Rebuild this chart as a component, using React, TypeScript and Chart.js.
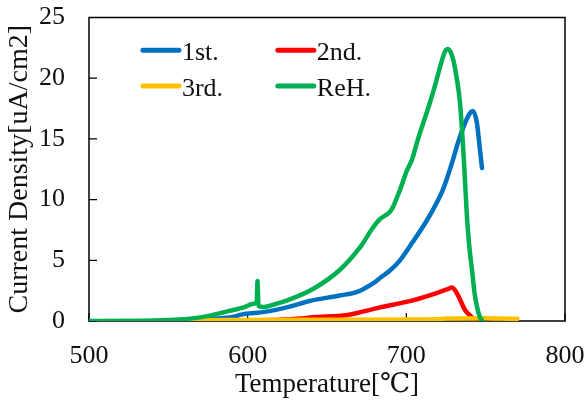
import React, { useEffect, useRef } from 'react';
import { Chart, registerables } from 'chart.js';

Chart.register(...registerables);

// ---- data (temperature in °C, current density in uA/cm2) ----
const firstTemp = [540, 560, 580, 593, 595, 611, 627, 639, 658, 669, 679, 684, 690, 696, 704, 713, 719, 723, 726, 729.4, 732.6, 737, 740, 742, 744.5, 746.4, 747.7];
const firstCurrent = [0, 0.05, 0.2, 0.4, 0.5, 0.75, 1.2, 1.65, 2.1, 2.4, 3.1, 3.6, 4.2, 5.0, 6.5, 8.3, 9.7, 10.8, 11.9, 13.3, 14.7, 16.3, 17.1, 17.3, 16.3, 14.1, 12.6];

const secondTemp = [580, 600, 620, 633, 641, 663, 683, 704, 719, 725.6, 728.8, 732.6, 737, 741.4, 742.6];
const secondCurrent = [0, 0.05, 0.1, 0.2, 0.3, 0.5, 1.1, 1.7, 2.3, 2.6, 2.75, 2.1, 0.9, 0.3, 0.1];

const thirdTemp = [545, 560, 600, 650, 700, 720, 725, 750, 760, 770];
const thirdCurrent = [0, 0.05, 0.08, 0.1, 0.12, 0.15, 0.2, 0.22, 0.2, 0.18];

const rehTemp = [500, 530, 550, 570, 589, 598, 603, 605.7, 606.2, 606.8, 610, 615, 627, 642, 658, 671, 679, 683.4, 689.7, 691.6, 696, 700.4, 703.6, 706.7, 714.9, 718.1, 721.2, 724.4, 726.3, 729.4, 731.9, 733.8, 735.7, 736.8, 738.2, 739.5, 741.4, 743, 744.5, 746.4, 747.7];
const rehCurrent = [0, 0.02, 0.08, 0.3, 0.85, 1.15, 1.4, 1.55, 3.3, 1.25, 1.15, 1.3, 1.8, 2.7, 4.2, 6.1, 7.7, 8.4, 9.0, 9.4, 10.8, 12.4, 13.3, 14.7, 18, 19.4, 20.9, 22.2, 22.4, 21.6, 19.9, 18, 14.5, 12, 8.6, 6.4, 4.2, 2.3, 1.2, 0.3, 0.05];

const seriesLabels = ['1st.', '2nd.', '3rd.', 'ReH.'];
const seriesColors = ['#0070C0', '#FF0000', '#FFC000', '#00B050'];

const xTickValues = [500, 600, 700, 800];
const yTickValues = [0, 5, 10, 15, 20, 25];

const FONT = "'Liberation Serif', 'DejaVu Serif', serif";

function toPoints(xs: number[], ys: number[]) {
  return xs.map((x, i) => ({ x, y: ys[i] }));
}

const framePlugin = {
  id: 'frameAndTicks',
  beforeDatasetsDraw(chart: any) {
    const { ctx, chartArea } = chart;
    const xs = chart.scales.x;
    const ys = chart.scales.y;
    ctx.save();
    ctx.strokeStyle = '#000';
    ctx.lineWidth = 1.5;
    ctx.strokeRect(chartArea.left, chartArea.top, chartArea.right - chartArea.left, chartArea.bottom - chartArea.top);
    ctx.lineWidth = 1.2;
    ctx.beginPath();
    yTickValues.forEach((v) => {
      const py = ys.getPixelForValue(v);
      ctx.moveTo(chartArea.left, py);
      ctx.lineTo(chartArea.left + 8, py);
    });
    xTickValues.forEach((v) => {
      const px = xs.getPixelForValue(v);
      ctx.moveTo(px, chartArea.bottom);
      ctx.lineTo(px, chartArea.bottom - 8);
    });
    ctx.stroke();
    ctx.restore();
  },
  afterDraw(chart: any) {
    const { ctx } = chart;
    const xs = chart.scales.x;
    const ys = chart.scales.y;
    // legend in two columns inside the plot area
    const colX = [xs.getPixelForValue(534), xs.getPixelForValue(619)];
    const rowY = [ys.getPixelForValue(22.3), ys.getPixelForValue(19.35)];
    ctx.save();
    ctx.font = `26px ${FONT}`;
    ctx.textBaseline = 'middle';
    ctx.fillStyle = '#111';
    seriesLabels.forEach((label, i) => {
      const c = i % 2;
      const r = Math.floor(i / 2);
      const x0 = colX[c];
      const y0 = rowY[r];
      ctx.strokeStyle = seriesColors[i];
      ctx.lineWidth = 5;
      ctx.lineCap = 'round';
      ctx.beginPath();
      ctx.moveTo(x0, y0);
      ctx.lineTo(x0 + 36, y0);
      ctx.stroke();
      ctx.fillText(label, x0 + 39, y0 + 3);
    });
    ctx.restore();
  },
};

export default function App() {
  const ref = useRef<HTMLCanvasElement | null>(null);
  useEffect(() => {
    document.body.style.margin = '0';
    const canvas = ref.current;
    if (!canvas) return;
    const mk = (i: number, xs: number[], ys: number[], order: number) => ({
      label: seriesLabels[i],
      data: toPoints(xs, ys),
      borderColor: seriesColors[i],
      backgroundColor: seriesColors[i],
      borderWidth: 4.5,
      pointRadius: 0,
      cubicInterpolationMode: 'monotone',
      borderCapStyle: 'round',
      borderJoinStyle: 'round',
      fill: false,
      order,
    });
    const chart = new Chart(canvas, {
      type: 'line',
      data: {
        datasets: [
          mk(0, firstTemp, firstCurrent, 3),
          mk(1, secondTemp, secondCurrent, 2),
          mk(2, thirdTemp, thirdCurrent, 1),
          mk(3, rehTemp, rehCurrent, 0),
        ] as any,
      },
      options: {
        responsive: false,
        animation: false,
        layout: { padding: { top: 17.5, right: 22, left: 0, bottom: 0 } },
        plugins: { legend: { display: false }, tooltip: { enabled: false } },
        scales: {
          x: {
            type: 'linear',
            min: 500,
            max: 800,
            afterBuildTicks: (s: any) => { s.ticks = xTickValues.map((v) => ({ value: v })); },
            afterFit: (s: any) => { s.height = 82; s.paddingLeft = 0; s.paddingRight = 0; },
            grid: { display: false, drawTicks: false },
            border: { display: false },
            ticks: { color: '#111', font: { family: FONT, size: 26 }, padding: 20, maxRotation: 0 },
            title: { display: true, text: 'Temperature[℃]', color: '#111', font: { family: FONT, size: 27 }, padding: { top: 0, bottom: 2 } },
          },
          y: {
            type: 'linear',
            min: 0,
            max: 25,
            afterBuildTicks: (s: any) => { s.ticks = yTickValues.map((v) => ({ value: v })); },
            afterFit: (s: any) => { s.width = 89; s.paddingTop = 0; s.paddingBottom = 0; },
            grid: { display: false, drawTicks: false },
            border: { display: false },
            ticks: { color: '#111', font: { family: FONT, size: 26 }, padding: 24 },
            title: { display: true, text: 'Current Density[uA/cm2]', color: '#111', font: { family: FONT, size: 28 }, padding: { top: 3, bottom: 0 } },
          },
        },
      },
      plugins: [framePlugin],
    });
    return () => chart.destroy();
  }, []);
  return (
    <div style={{ width: 587, height: 403 }}>
      <canvas ref={ref} width={587} height={403} />
    </div>
  );
}
